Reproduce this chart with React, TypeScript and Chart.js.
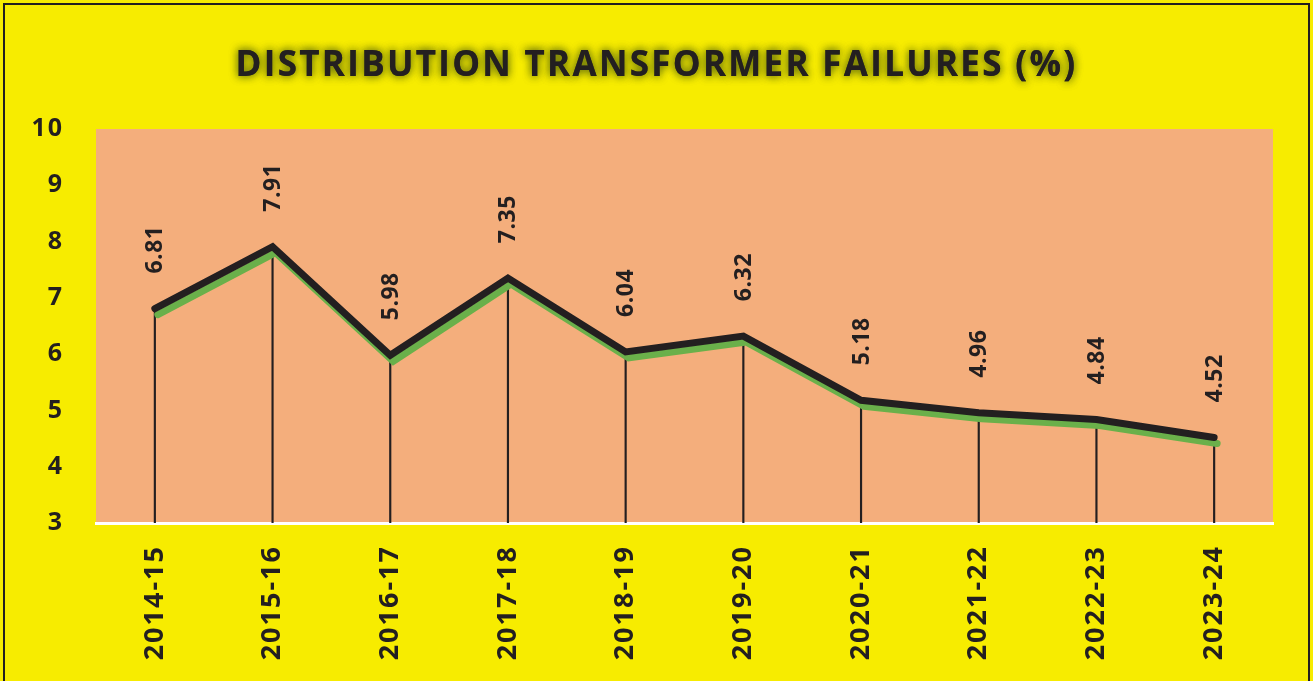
import React, { useEffect, useRef } from "react";
import { Chart, registerables } from "chart.js";

Chart.register(...registerables);

const categories = [
  "2014-15", "2015-16", "2016-17", "2017-18", "2018-19",
  "2019-20", "2020-21", "2021-22", "2022-23", "2023-24",
];
const failurePct = [6.81, 7.91, 5.98, 7.35, 6.04, 6.32, 5.18, 4.96, 4.84, 4.52];
const yTicks = [3, 4, 5, 6, 7, 8, 9, 10];
const titleText = "DISTRIBUTION TRANSFORMER FAILURES (%)";

const YELLOW = "#F7EC00";
const SALMON = "#F4AE7C";
const INK = "#231F20";
const GREEN = "#6AB04A";

const decorPlugin = {
  id: "decor",
  beforeDraw(chart: any) {
    const { ctx, chartArea, width, height } = chart;
    ctx.save();
    ctx.fillStyle = YELLOW;
    ctx.fillRect(0, 0, width, height);
    ctx.fillStyle = SALMON;
    ctx.fillRect(chartArea.left, chartArea.top, chartArea.right - chartArea.left, chartArea.bottom - chartArea.top);
    // outer frame
    ctx.strokeStyle = INK;
    ctx.lineWidth = 2;
    ctx.strokeRect(4, 4, width - 8, height + 20);
    ctx.restore();
    // slightly spaced axis lettering
    (ctx as any).letterSpacing = "2px";
  },
  beforeDatasetsDraw(chart: any) {
    (chart.ctx as any).letterSpacing = "0px";
  },
  beforeDatasetDraw(chart: any, args: any) {
    if (args.index !== 1) return;
    const ctx = chart.ctx;
    ctx.save();
    ctx.shadowColor = GREEN;
    ctx.shadowOffsetX = 3;
    ctx.shadowOffsetY = 6;
    ctx.shadowBlur = 0;
  },
  afterDatasetDraw(chart: any, args: any) {
    if (args.index !== 1) return;
    chart.ctx.restore();
  },
  afterDatasetsDraw(chart: any) {
    const { ctx } = chart;
    const meta = chart.getDatasetMeta(1);
    const data = chart.data.datasets[1].data as number[];
    ctx.save();
    (ctx as any).letterSpacing = "0.5px";
    ctx.fillStyle = INK;
    ctx.font = 'bold 23px "Open Sans"';
    ctx.textAlign = "left";
    ctx.textBaseline = "middle";
    meta.data.forEach((pt: any, i: number) => {
      ctx.save();
      ctx.translate(pt.x + 1, pt.y - 35);
      ctx.rotate(-Math.PI / 2);
      ctx.fillText(data[i].toFixed(2), 0, 0);
      ctx.restore();
    });
    ctx.restore();
  },
  afterDraw(chart: any) {
    const { ctx, width } = chart;
    ctx.save();
    ctx.font = 'bold 35px "Open Sans"';
    (ctx as any).letterSpacing = "2.3px";
    ctx.textAlign = "center";
    ctx.textBaseline = "alphabetic";
    ctx.fillStyle = INK;
    ctx.shadowColor = "rgba(110,120,10,0.9)";
    ctx.shadowBlur = 9;
    ctx.shadowOffsetX = 0;
    ctx.shadowOffsetY = 0;
    ctx.fillText(titleText, width / 2, 76);
    ctx.fillText(titleText, width / 2, 76);
    ctx.restore();
  },
};

export default function App() {
  const ref = useRef<HTMLCanvasElement | null>(null);

  useEffect(() => {
    document.body.style.margin = "0";
    const canvas = ref.current;
    if (!canvas) return;
    const chart = new Chart(canvas, {
      type: "bar",
      data: {
        labels: categories,
        datasets: [
          {
            type: "bar",
            label: "drop",
            data: failurePct,
            backgroundColor: INK,
            barThickness: 1.5,
            order: 2,
          },
          {
            type: "line",
            label: "Failures (%)",
            data: failurePct,
            borderColor: INK,
            borderWidth: 7,
            borderCapStyle: "round",
            borderJoinStyle: "miter",
            pointRadius: 0,
            tension: 0,
            fill: false,
            order: 1,
          },
        ],
      } as any,
      plugins: [decorPlugin],
      options: {
        responsive: false,
        animation: false,
        devicePixelRatio: 1,
        layout: { padding: { left: 6, right: 40, top: 129, bottom: 0 } },
        plugins: {
          legend: { display: false },
          title: { display: false },
          tooltip: { enabled: false },
        },
        scales: {
          x: {
            offset: true,
            grid: { display: false, drawTicks: false },
            border: { display: true, color: "#FFFFFF", width: 3 },
            ticks: {
              color: INK,
              font: { family: "Open Sans", weight: "bold", size: 27 },
              maxRotation: 90,
              minRotation: 90,
              padding: 22,
              autoSkip: false,
            },
            afterFit: (s: any) => {
              s.height = 158;
            },
          },
          y: {
            min: 3,
            max: 10,
            afterBuildTicks: (s: any) => {
              s.ticks = yTicks.map((v) => ({ value: v }));
            },
            grid: { display: false, drawTicks: false },
            border: { display: false },
            ticks: {
              color: INK,
              font: { family: "Open Sans", weight: "bold", size: 25 },
              padding: 32,
            },
            afterFit: (s: any) => {
              s.width = 90;
            },
          },
        },
      } as any,
    });
    return () => chart.destroy();
  }, []);

  return <canvas ref={ref} width={1313} height={681} style={{ display: "block" }} />;
}
